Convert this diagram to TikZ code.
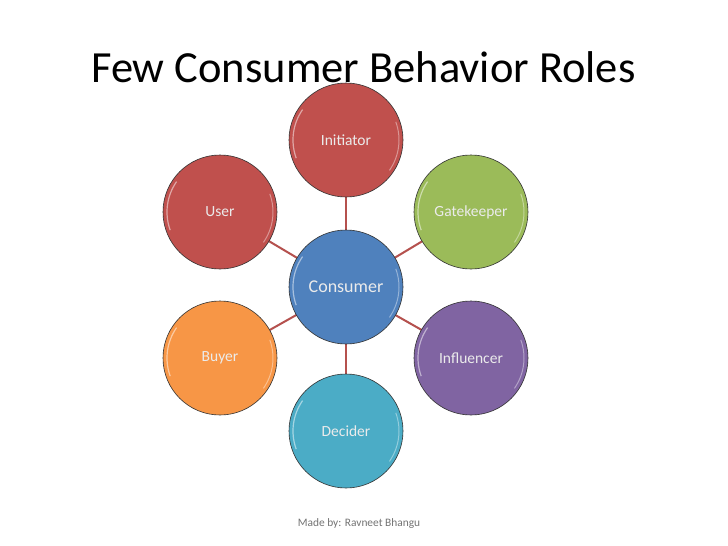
\documentclass[tikz,border=0pt]{standalone}
\usepackage{fontspec}
\setmainfont{Carlito}
\definecolor{cred}{HTML}{C0504D}
\definecolor{cgreen}{HTML}{9BBB59}
\definecolor{cpurple}{HTML}{8064A2}
\definecolor{caqua}{HTML}{4BACC6}
\definecolor{corange}{HTML}{F79646}
\definecolor{cblue}{HTML}{4F81BD}
\definecolor{clink}{HTML}{B5514E}
\begin{document}
\begin{tikzpicture}[x=1pt,y=-1pt,
  role/.style={circle,draw=black!80,line width=0.6pt,minimum size=114pt,inner sep=0pt,
    text=white!92!black,font=\fontsize{15.5}{18}\selectfont},
  link/.style={draw=clink,line width=2pt}]
\useasboundingbox (0,0) rectangle (728,546);
\fill[white] (0,0) rectangle (728,546);
\node[anchor=base west,inner sep=0pt,font=\fontsize{44.5}{50}\selectfont] (title) at (91,82) {Few Consumer Behavior Roles};
\coordinate (c0) at (346,287);
\foreach \n/\p in {ini/{346,140},gat/{471,212},inf/{471,358},dec/{346,431},buy/{220,358},use/{220,212}}
  \coordinate (\n) at (\p);
\foreach \n in {ini,gat,inf,dec,buy,use}
  \draw[link] (c0) -- (\n);
\node[role,fill=cred] (initiator) at (ini) {Initiator};
\node[role,fill=cgreen] (gatekeeper) at (gat) {Gatekeeper};
\node[role,fill=cpurple] (influencer) at (inf) {Influencer};
\node[role,fill=caqua] (decider) at (dec) {Decider};
\node[role,fill=corange] (buyer) at (buy) {Buyer};
\node[role,fill=cred] (user) at (use) {User};
\node[role,fill=cblue,font=\fontsize{18}{21}\selectfont] (consumer) at (c0) {Consumer};
\foreach \n in {initiator,gatekeeper,influencer,decider,buyer,user,consumer}{
  \draw[white,opacity=0.5,line width=1.2pt] (\n.center) ++(160:53) arc (160:215:53);
  \draw[white,opacity=0.4,line width=1pt] (\n.center) ++(-20:53) arc (-20:35:53);
}
\node[font=\fontsize{11.4}{13}\selectfont,text=black!55] (credit) at (359,524) {Made by: Ravneet Bhangu};
\end{tikzpicture}
\end{document}
